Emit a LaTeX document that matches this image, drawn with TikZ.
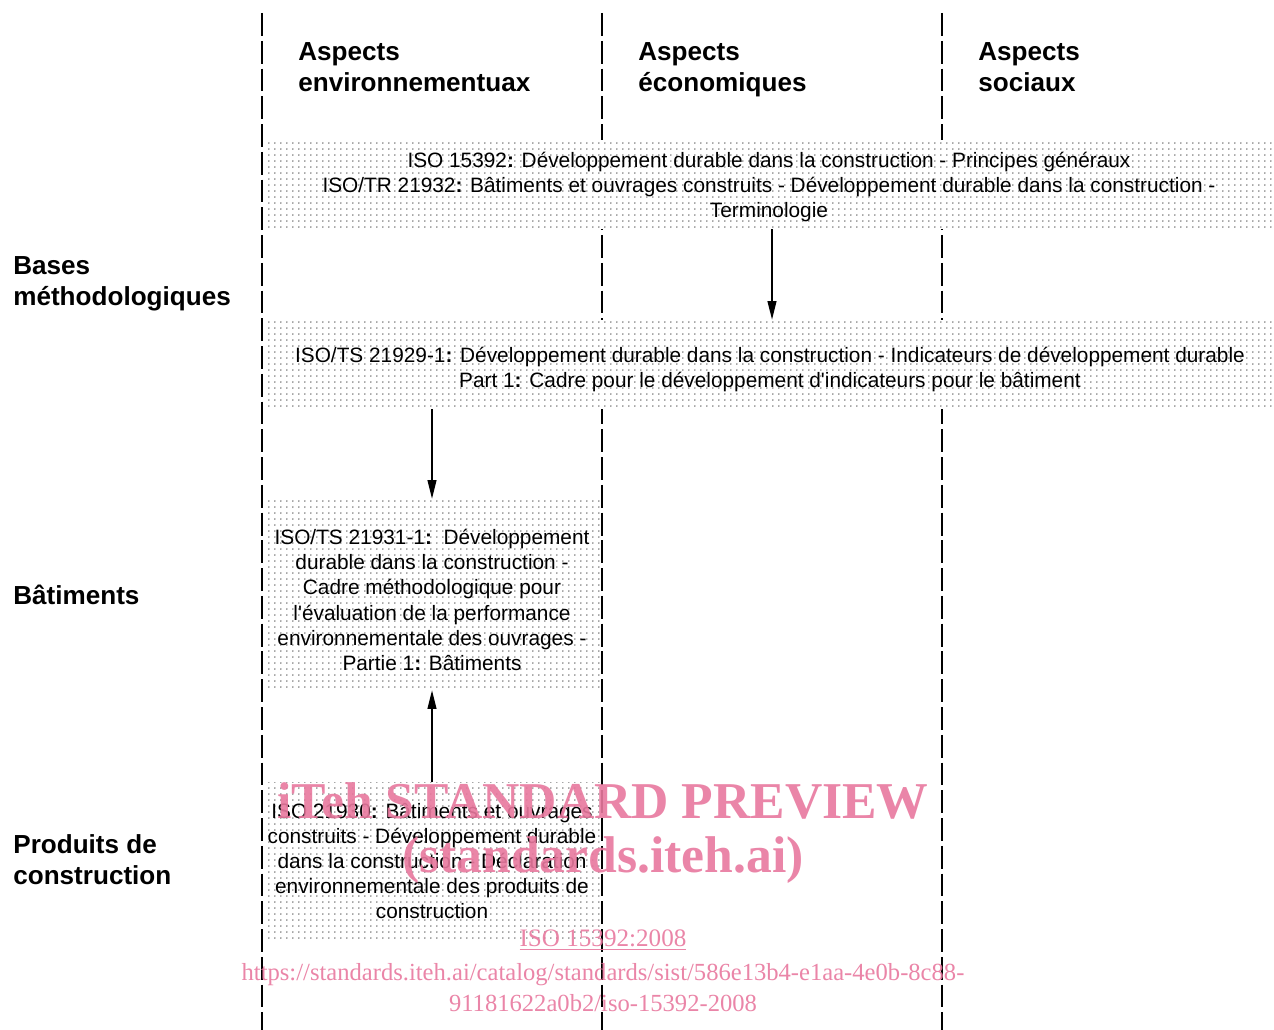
\documentclass[tikz,border=0pt]{standalone}
\usepackage{fontspec}
\setmainfont{Liberation Sans}
\newfontfamily\aposfont{Liberation Sans}
\newfontfamily\wmfont{Liberation Serif}
\usetikzlibrary{arrows.meta, patterns}

% straight apostrophe
\newcommand\apos{{\aposfont'}}

% fine grey dots used as box fill
\pgfdeclarepatternformonly{finedots}{\pgfpointorigin}{\pgfqpoint{3.3pt}{3.4pt}}{\pgfqpoint{3.3pt}{3.4pt}}{%
	\pgfpathcircle{\pgfqpoint{1.65pt}{1.7pt}}{0.42pt}\pgfusepath{fill}}

\definecolor{wmpink}{RGB}{232,120,158}

\begin{document}
\begin{tikzpicture}[x=0.02cm, y=-0.02cm,
	lane/.style={line width=1.2pt, dash pattern=on 13pt off 2.8pt},
	head/.style={font=\fontsize{14.85pt}{17.6pt}\selectfont\bfseries, align=left, anchor=west, inner sep=0pt},
	dotbox/.style={fill=white, postaction={pattern=finedots, pattern color=black!70}, inner sep=0pt},
	boxtext/.style={inner sep=0pt, align=center, font=\fontsize{11.85pt}{14.35pt}\selectfont},
	link/.style={line width=0.8pt, -{Triangle[length=10.5pt, width=5pt]}},
	wm/.style={text=wmpink, opacity=0.9, inner sep=0pt, align=center}]

	\useasboundingbox (0,0) rectangle (1274,1030);

	% Lanes
	\foreach \x in {262,602,942}
	\draw[lane] (\x,13) -- (\x,1030);

	% Column headers
	\node[head] (env) at (298,67.5) {Aspects\\environnementuax};
	\node[head] (eco) at (638,69.5) {Aspects\\économiques};
	\node[head] (soc) at (978,67.5) {Aspects\\sociaux};

	% Row labels
	\node[head] (bases) at (13,284) {Bases\\méthodologiques};
	\node[head] (bat) at (13,595) {Bâtiments};
	\node[head] (prod) at (13,859.5) {Produits de\\construction};

	% Standards (boxes)
	\node[dotbox, minimum width=20.2cm, minimum height=1.78cm] (iso15392) at (769,184.5) {};
	\node[dotbox, minimum width=20.2cm, minimum height=1.78cm] (iso21929) at (769,364.5) {};
	\node[dotbox, minimum width=6.72cm, minimum height=3.82cm] (iso21931) at (432,594.5) {};
	\node[dotbox, minimum width=6.72cm, minimum height=3.22cm] (iso21930) at (432,862.5) {};

	% Standards (titles)
	\node[boxtext] (t15392) at (769,187)
		{ISO 15392\textbf{:} Développement durable dans la construction - Principes généraux\\
		ISO/TR 21932\textbf{:} Bâtiments et ouvrages construits - Développement durable dans la construction -\\
		Terminologie};
	\node[boxtext] (t21929) at (770,369.5)
		{ISO/TS 21929-1\textbf{:} Développement durable dans la construction - Indicateurs de développement durable\\
		Part 1\textbf{:} Cadre pour le développement d\apos indicateurs pour le bâtiment};
	\node[boxtext] (t21931) at (432,600)
		{ISO/TS 21931-1\textbf{:}\ \ Développement\\
		durable dans la construction -\\
		Cadre méthodologique pour\\
		l\apos évaluation de la performance\\
		environnementale des ouvrages -\\
		Partie 1\textbf{:} Bâtiments};
	\node[boxtext] (t21930) at (432,861)
		{ISO 21930\textbf{:} Bâtiments et ouvrages\\
		construits - Développement durable\\
		dans la construction - Déclaration\\
		environnementale des produits de\\
		construction};

	% Links
	\draw[link] ([xshift=0.06cm]iso15392.south) -- ([xshift=0.06cm]iso21929.north);
	\draw[link] (iso21929.south -| iso21931.north) -- (iso21931.north);
	\draw[link] (iso21930) -- (iso21931);

	% Watermark
	\node[wm, font=\fontsize{29.4pt}{34pt}\selectfont\wmfont\bfseries] (wmtitle) at (603,801) {iTeh STANDARD PREVIEW};
	\node[wm, font=\fontsize{29.4pt}{34pt}\selectfont\wmfont\bfseries] (wmsite) at (603,860) {(standards.iteh.ai)};
	\node[wm, font=\fontsize{14.3pt}{17.6pt}\selectfont\wmfont] (wmiso) at (603,940) {\underline{ISO 15392:2008}};
	\node[wm, font=\fontsize{14pt}{17.6pt}\selectfont\wmfont] (wmurl) at (603,987.5)
		{https://standards.iteh.ai/catalog/standards/sist/586e13b4-e1aa-4e0b-8c88-\\91181622a0b2/iso-15392-2008};

\end{tikzpicture}
\end{document}
